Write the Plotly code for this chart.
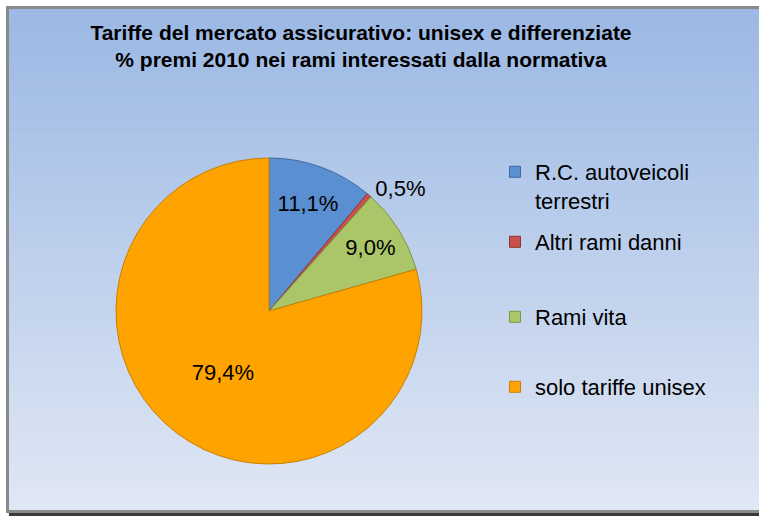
import plotly.graph_objects as go

# ---- data ----
categories = ["R.C. autoveicoli<br>terrestri", "Altri rami danni", "Rami vita", "solo tariffe unisex"]
values = [11.1, 0.5, 9.0, 79.4]
title_lines = ["Tariffe del mercato assicurativo: unisex e differenziate",
               "% premi 2010 nei rami interessati dalla normativa"]

# ---- style ----
colors = ["#5a8fd1", "#c9504d", "#aac668", "#ffa300"]
line_colors = ["#3e6ba6", "#8e3532", "#7b9643", "#c97f00"]
text_positions = ["inside", "outside", "inside", "inside"]
FONT = "Liberation Sans Narrow, Arial Narrow, Liberation Sans, sans-serif"

W, H = 759, 516


def px(x):  # page x -> paper
    return x / W


def py(y):  # page y -> paper
    return 1 - y / H


fig = go.Figure()

# pie centre (269, 311) px, radius ~153 px
cx, cy, r = 269, 311, 153
fig.add_trace(go.Pie(
    labels=categories,
    values=values,
    sort=False,
    direction="clockwise",
    rotation=0,
    marker=dict(colors=colors, line=dict(color=line_colors, width=1)),
    texttemplate="%{value:.1f}%",
    textposition=text_positions,
    insidetextorientation="horizontal",
    textfont=dict(family=FONT, size=22, color="black"),
    showlegend=False,
    hoverinfo="label+percent",
    domain=dict(x=[px(cx - r), px(cx + r)], y=[py(cy + r), py(cy - r)]),
))

# legend entries (one legend per item so spacing matches the original)
legend_names = ["legend", "legend2", "legend3", "legend4"]
legend_y = [172, 242, 317, 387]
for name, lab, col, lc in zip(legend_names, categories, colors, line_colors):
    fig.add_trace(go.Scatter(
        x=[None], y=[None], mode="markers", name=lab, legend=name,
        marker=dict(symbol="square", size=11, color=col, line=dict(color=lc, width=1)),
        hoverinfo="skip",
    ))

layout_legends = {}
for name, yy in zip(legend_names, legend_y):
    first = name == "legend"
    layout_legends[name] = dict(
        x=px(495), xanchor="left",
        y=py(yy - 21) if first else py(yy),
        yanchor="top" if first else "middle",
        bgcolor="rgba(0,0,0,0)", borderwidth=0,
        font=dict(family=FONT, size=22, color="black"),
        valign="top", itemclick=False, itemdoubleclick=False,
    )

# background gradient stripes + frame
shapes = []
top = (155, 184, 228)
bot = (224, 231, 244)
y_top, y_bot = 9, 510
n = 120
for i in range(n):
    t = i / (n - 1)
    c = tuple(round(top[k] + (bot[k] - top[k]) * t) for k in range(3))
    ya = y_top + (y_bot - y_top) * i / n
    yb = y_top + (y_bot - y_top) * (i + 1) / n + 0.6
    shapes.append(dict(type="rect", xref="paper", yref="paper", layer="below",
                       x0=px(9), x1=px(770), y0=py(yb), y1=py(ya),
                       line=dict(width=0), fillcolor="rgb(%d,%d,%d)" % c))
gray = "#8a8a8a"
frame = [
    (6, 9, 6, 513, gray),      # left
    (6, 770, 6, 9, gray),      # top
    (6, 770, 510, 513, gray),  # bottom
    (9, 770, 513, 516, "#3a3a3a"),  # shadow
]
for xa, xb, ya, yb, col in frame:
    shapes.append(dict(type="rect", xref="paper", yref="paper", layer="below",
                       x0=px(xa), x1=px(xb), y0=py(yb), y1=py(ya),
                       line=dict(width=0), fillcolor=col))

fig.update_layout(
    width=W, height=H,
    margin=dict(l=0, r=0, t=0, b=0),
    paper_bgcolor="white", plot_bgcolor="rgba(0,0,0,0)",
    separators=",.",
    title=dict(text="<b>" + "<br>".join(title_lines) + "</b>",
               x=px(361), xanchor="center", y=py(40), yanchor="middle",
               font=dict(family=FONT, size=21, color="black")),
    xaxis=dict(visible=False), yaxis=dict(visible=False),
    shapes=shapes,
    **layout_legends,
)

fig.write_html("out.html",
               config={"displayModeBar": False},
               post_script="document.body.style.margin='0';"
                           "document.body.style.overflow='hidden';"
                           "document.documentElement.style.overflow='hidden';")
